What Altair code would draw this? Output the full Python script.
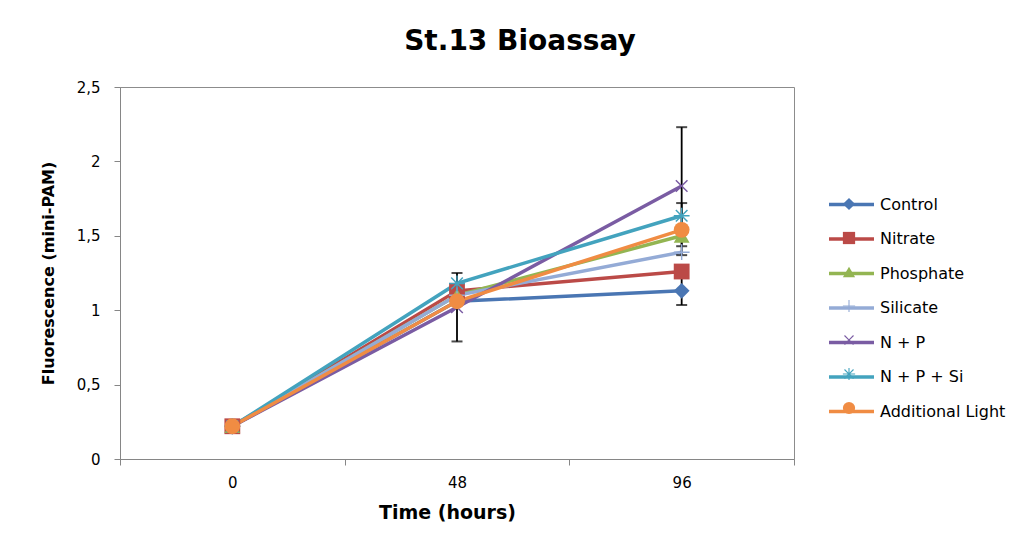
import altair as alt
import pandas as pd

series = ["Control", "Nitrate", "Phosphate", "Silicate", "N + P", "N + P + Si", "Additional Light"]
hours = [0, 48, 96]
control = [0.22, 1.06, 1.13]
nitrate = [0.22, 1.13, 1.26]
phosphate = [0.22, 1.10, 1.50]
silicate = [0.22, 1.10, 1.39]
n_p = [0.22, 1.02, 1.835]
n_p_si = [0.22, 1.18, 1.635]
add_light = [0.22, 1.06, 1.54]

err_series = ["N + P", "N + P", "Control", "Additional Light"]
err_hours = [48, 96, 96, 96]
err_lo = [0.79, 1.43, 1.035, 1.37]
err_hi = [1.25, 2.23, 1.225, 1.72]

colors = ["#4A76B3", "#BB4A47", "#93B552", "#94ABD6", "#7A5CA3", "#43A3BE", "#F08C43"]

PLUS = "M-1,-0.09L-0.09,-0.09L-0.09,-1L0.09,-1L0.09,-0.09L1,-0.09L1,0.09L0.09,0.09L0.09,1L-0.09,1L-0.09,0.09L-1,0.09Z"
XS = ("M-0.8,-0.67L-0.67,-0.8L0,-0.13L0.67,-0.8L0.8,-0.67L0.13,0L0.8,0.67L0.67,0.8"
      "L0,0.13L-0.67,0.8L-0.8,0.67L-0.13,0Z")
shapes = ["diamond", "square", "triangle-up", PLUS, XS, XS + PLUS, "circle"]

vals = [control, nitrate, phosphate, silicate, n_p, n_p_si, add_light]
rows = []
for s, v in zip(series, vals):
    for h, y in zip(hours, v):
        rows.append({"series": s, "series_s": s, "hours": h, "value": y, "order": series.index(s)})
df = pd.DataFrame(rows)
err = pd.DataFrame({"series": err_series, "hours": err_hours, "lo": err_lo, "hi": err_hi})

FONT = "DejaVu Sans"

x_enc = alt.X(
    "hours:Q",
    scale=alt.Scale(domain=[-24, 120], nice=False, zero=False),
    axis=alt.Axis(
        values=[-24, 0, 24, 48, 72, 96, 120],
        labelExpr="datum.value % 48 === 0 ? datum.label : ''",
        tickOpacity={"condition": {"test": "datum.value % 48 === 0", "value": 0}, "value": 1},
        title="Time (hours)",
        titleFontSize=19,
        titleFontWeight="bold",
        titlePadding=13,
        titleX=327,
        labelFontSize=15,
        labelPadding=10,
        tickSize=6,
        grid=False,
    ),
)
y_scale = alt.Scale(domain=[0, 2.5], nice=False)
y_axis = alt.Axis(
    values=[0, 0.5, 1, 1.5, 2, 2.5],
    format="~g",
    labelExpr="replace(datum.label, '.', ',')",
    title="Fluorescence (mini-PAM)",
    titleFontSize=16,
    titleFontWeight="bold",
    titlePadding=20,
    labelFontSize=15,
    labelPadding=14,
    tickSize=6,
    grid=False,
)

lines = alt.Chart(df).mark_line(strokeWidth=3.5).encode(
    x=x_enc,
    y=alt.Y("value:Q", scale=y_scale, axis=y_axis),
    stroke=alt.Stroke(
        "series:N",
        sort=alt.EncodingSortField(field="order", op="min"),
        scale=alt.Scale(range=colors),
        legend=alt.Legend(
            title=None,
            orient="none",
            legendX=707,
            legendY=93,
            symbolType="stroke",
            symbolSize=2025,
            symbolStrokeWidth=3.5,
            labelFontSize=16,
            labelFont=FONT,
            labelOffset=4,
            rowPadding=1.5,
            labelColor="#000000",
        ),
    ),
    order="order:Q",
)

bars = alt.Chart(err).mark_rule(color="black", strokeWidth=1.8).encode(
    x="hours:Q", y=alt.Y("lo:Q", scale=y_scale), y2="hi:Q"
)
caps_lo = alt.Chart(err).mark_tick(color="black", thickness=2, size=11, orient="horizontal").encode(
    x="hours:Q", y=alt.Y("lo:Q", scale=y_scale)
)
caps_hi = alt.Chart(err).mark_tick(color="black", thickness=2, size=11, orient="horizontal").encode(
    x="hours:Q", y=alt.Y("hi:Q", scale=y_scale)
)

shape_legend = alt.Legend(
    title=None,
    orient="none",
    legendX=721,
    legendY=109,
    symbolSize=150,
    symbolStrokeWidth=0,
    labelFontSize=16,
    labelFont=FONT,
    labelOffset=4,
    rowPadding=18,
    labelExpr="''",
)
points = alt.Chart(df).mark_point(size=250, filled=True, opacity=1).encode(
    x="hours:Q",
    y=alt.Y("value:Q", scale=y_scale),
    shape=alt.Shape("series_s:N", scale=alt.Scale(domain=series, range=shapes), legend=shape_legend),
    color=alt.Color("series_s:N", scale=alt.Scale(domain=series, range=colors), legend=shape_legend),
    order="order:Q",
)

chart = (
    alt.layer(lines, bars, caps_lo, caps_hi, points)
    .properties(
        width=674,
        height=372,
        autosize=alt.AutoSizeParams(type="none"),
        padding={"left": 112, "top": 79, "right": 224, "bottom": 77},
        title=alt.TitleParams(
            "St.13 Bioassay", fontSize=28, fontWeight="bold", font=FONT, dx=63, offset=24, color="#000000"
        ),
    )
    .configure_view(stroke="#8c8c8c", strokeWidth=1)
    .configure_axis(
        domainColor="#868686",
        tickColor="#868686",
        labelFont=FONT,
        titleFont=FONT,
        labelColor="#000000",
        titleColor="#000000",
    )
)

chart.save("out.html", embed_options={"renderer": "svg", "actions": False})
